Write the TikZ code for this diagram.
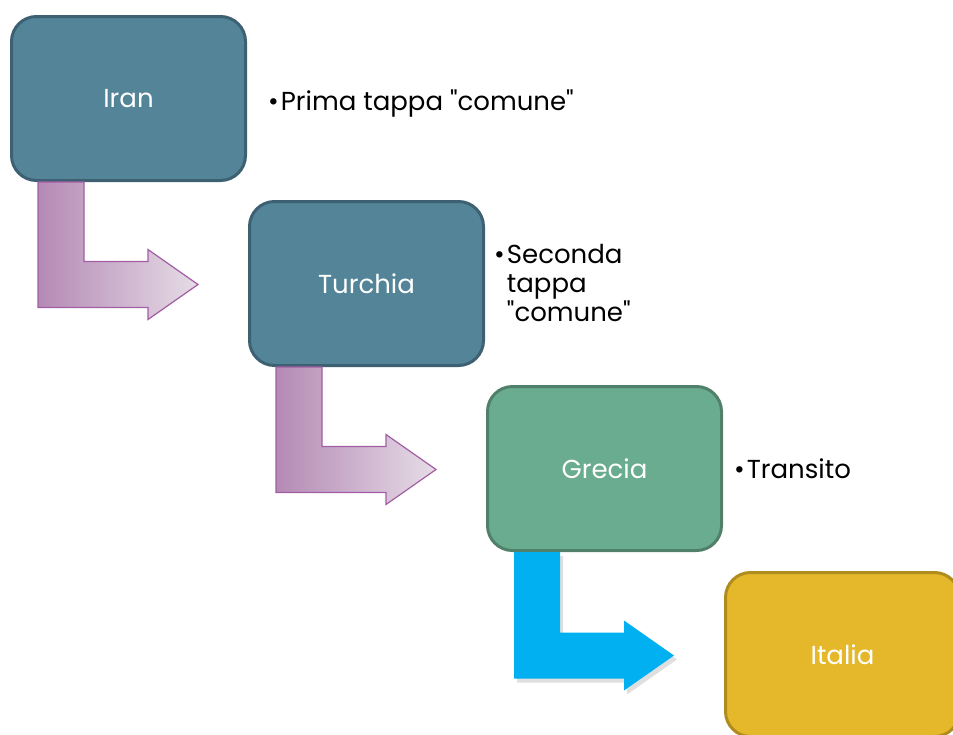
\documentclass[tikz,border=0pt]{standalone}
\usepackage{fontspec}
\setmainfont{Poppins}[Ligatures=TeXOff]
\usetikzlibrary{calc, positioning, shadows}

\definecolor{tealbox}{HTML}{538497}
\definecolor{tealline}{HTML}{3E6073}
\definecolor{greenbox}{HTML}{6AAC90}
\definecolor{greenline}{HTML}{507F6A}
\definecolor{goldbox}{HTML}{E4B82A}
\definecolor{goldline}{HTML}{B08C1E}
\definecolor{plumdark}{HTML}{B48AB4}
\definecolor{plumlight}{HTML}{E6DCE6}
\definecolor{plumline}{HTML}{A35DA4}
\definecolor{skyarrow}{HTML}{00B0F0}

\tikzset{
  stage/.style={rounded corners=25pt, line width=3pt, minimum width=234pt,
    minimum height=164pt, inner sep=0pt, text=white,
    font=\fontsize{26}{29}\selectfont},
  note/.style={inner sep=0pt, align=left, font=\fontsize{26}{29}\selectfont},
  plumarrow/.style={draw=plumline, line width=1.2pt, left color=plumdark,
    right color=plumlight},
  skyarrowfill/.style={fill=skyarrow,
    drop shadow={shadow xshift=3pt, shadow yshift=-4pt, opacity=.25}},
}

\newcommand{\stagearrow}[3]{%
  \path[#3] ($(#1.south west)+(28,0)$) -- ($(#1.south west)+(74,0)$)
    |- ($(#2.west)+(-100,-22)$) -- ($(#2.west)+(-100,-34)$)
    -- ($(#2.west)+(-50,1)$) -- ($(#2.west)+(-100,36)$)
    -- ($(#2.west)+(-100,24)$) -| ($(#1.south west)+(28,0)$) -- cycle;}

\begin{document}
\begin{tikzpicture}[x=1pt, y=-1pt]

\useasboundingbox (0,0) rectangle (953,734);

\node[stage, fill=tealbox, draw=tealline] (iran) at (128.5,98.5) {Iran};
\node[stage, fill=tealbox, draw=tealline, below right=18pt and 1pt of iran] (turchia) {Turchia};
\node[stage, fill=greenbox, draw=greenline, below right=18pt and 1pt of turchia] (grecia) {Grecia};
\node[stage, fill=goldbox, draw=goldline, below right=19pt and 1pt of grecia] (italia) {Italia};

\stagearrow{iran}{turchia}{plumarrow}
\stagearrow{turchia}{grecia}{plumarrow}
\stagearrow{grecia}{italia}{skyarrowfill}

\node[note, right=21pt of iran, yshift=-5pt] (prima) {•\kern2pt Prima tappa "comune"};
\node[note, below right=43pt and 9pt of turchia.north east] (seconda)
  {•\kern2pt\begin{tabular}[t]{@{}l@{}}Seconda\\tappa\\"comune"\end{tabular}};
\node[note, right=11pt of grecia] (transito) {•\kern2pt Transito};

\end{tikzpicture}
\end{document}
